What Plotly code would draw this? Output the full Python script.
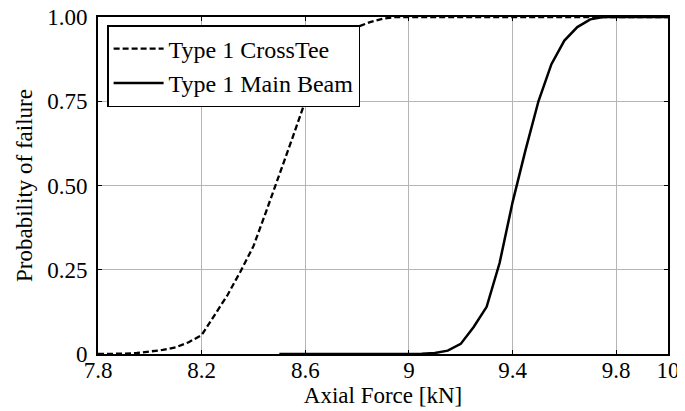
import plotly.graph_objects as go

# Data
cross_x = [7.8, 7.85, 7.9, 7.95, 8.0, 8.05, 8.1, 8.15, 8.2, 8.25, 8.3, 8.35, 8.4,
           8.45, 8.5, 8.55, 8.6, 8.65, 8.7, 8.75, 8.8, 8.85, 8.9, 8.95, 9.0, 10.0]
cross_y = [0.0, 0.0, 0.001, 0.003, 0.007, 0.012, 0.02, 0.035, 0.056, 0.115, 0.175,
           0.245, 0.32, 0.425, 0.53, 0.64, 0.75, 0.84, 0.905, 0.945, 0.97, 0.985,
           0.995, 1.0, 1.0, 1.0]

main_x = [8.5, 9.0, 9.05, 9.1, 9.15, 9.2, 9.25, 9.3, 9.35, 9.4, 9.45, 9.5, 9.55,
          9.6, 9.65, 9.7, 9.75, 10.0]
main_y = [0.0, 0.0, 0.001, 0.003, 0.01, 0.03, 0.08, 0.14, 0.27, 0.45, 0.605, 0.75,
          0.86, 0.93, 0.97, 0.993, 1.0, 1.0]

x_ticks = [7.8, 8.2, 8.6, 9.0, 9.4, 9.8, 10.0]
x_tick_labels = ["7.8", "8.2", "8.6", "9", "9.4", "9.8", "10"]
y_ticks = [0, 0.25, 0.5, 0.75, 1.0]
y_tick_labels = ["0", "0.25", "0.50", "0.75", "1.00"]

FONT = "Liberation Serif"
FS = 23

fig = go.Figure()
fig.add_trace(go.Scatter(x=cross_x, y=cross_y, mode="lines", name="Type 1 CrossTee",
                         line=dict(color="black", width=2.3, dash="6px,3px")))
fig.add_trace(go.Scatter(x=main_x, y=main_y, mode="lines", name="Type 1 Main Beam",
                         line=dict(color="black", width=2.5)))

axis_common = dict(showline=True, linecolor="black", linewidth=2, mirror="ticks",
                   ticks="inside", ticklen=4, tickcolor="black", tickwidth=1,
                   showgrid=True, gridcolor="#b5b5b5", gridwidth=1, zeroline=False,
                   automargin=False, ticklabeloverflow="allow",
                   tickfont=dict(family=FONT, size=FS, color="black"))

fig.update_xaxes(range=[7.8, 10.0], tickvals=x_ticks, ticktext=x_tick_labels,
                 ticklabelstandoff=-6,
                 title=dict(text="Axial Force [kN]", font=dict(family=FONT, size=FS, color="black"),
                            standoff=0),
                 **axis_common)
fig.update_yaxes(range=[0, 1.0], tickvals=y_ticks, ticktext=y_tick_labels,
                 ticklabelstandoff=4,
                 title=dict(text="Probability of failure", font=dict(family=FONT, size=FS, color="black"),
                            standoff=8),
                 **axis_common)

# The page body adds an 8px offset, so the figure is sized/margined to compensate
fig.update_layout(
    width=677, height=403,
    margin=dict(l=90, r=17, t=9, b=57),
    plot_bgcolor="white", paper_bgcolor="white",
    font=dict(family=FONT, size=FS, color="black"),
    legend=dict(x=0.016, y=0.976, xanchor="left", yanchor="top",
                bgcolor="white", bordercolor="black", borderwidth=1.5,
                font=dict(family=FONT, size=24, color="black"),
                itemwidth=50, tracegroupgap=0),
    showlegend=True,
)

fig.write_html("out.html")
